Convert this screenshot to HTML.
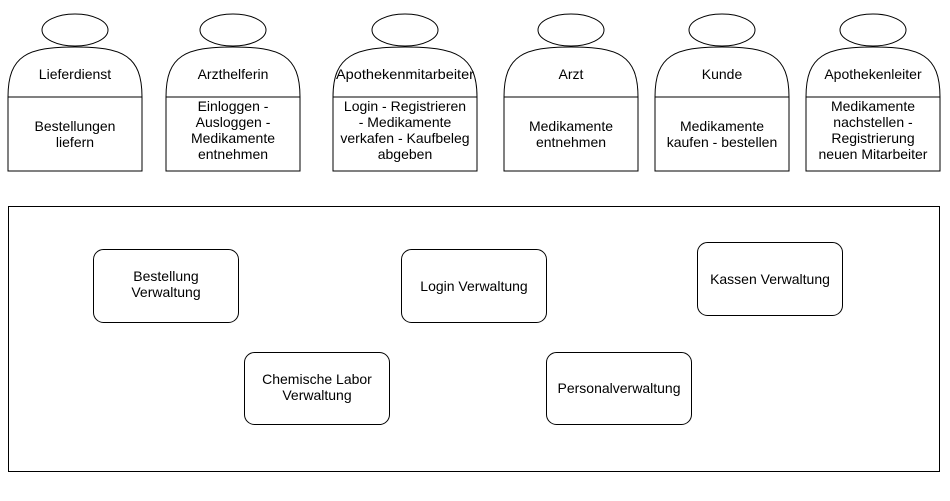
<!DOCTYPE html>
<html><head><meta charset="utf-8"><style>
html,body{margin:0;padding:0;background:#fff;}
svg text{font-family:"Liberation Sans",Arial,sans-serif;font-size:14px;fill:#000;text-anchor:middle;}
</style></head><body>
<svg width="950" height="496" viewBox="0 0 950 496" xmlns="http://www.w3.org/2000/svg">
<g fill="#fff" stroke="#000" stroke-width="1">
<g transform="translate(8,0)">
<ellipse cx="67" cy="30" rx="33" ry="16"/>
<path d="M0,171 L0,97 C0,55 20,47 67,47 C114,47 134,55 134,97 L134,171 Z"/>
<line x1="0" y1="97" x2="134" y2="97"/>
</g>
<g transform="translate(166,0)">
<ellipse cx="67" cy="30" rx="33" ry="16"/>
<path d="M0,171 L0,97 C0,55 20,47 67,47 C114,47 134,55 134,97 L134,171 Z"/>
<line x1="0" y1="97" x2="134" y2="97"/>
</g>
<g transform="translate(333,0)">
<ellipse cx="72" cy="30" rx="33" ry="16"/>
<path d="M0,171 L0,97 C0,55 22,47 72,47 C122,47 144,55 144,97 L144,171 Z"/>
<line x1="0" y1="97" x2="144" y2="97"/>
</g>
<g transform="translate(504,0)">
<ellipse cx="67" cy="30" rx="33" ry="16"/>
<path d="M0,171 L0,97 C0,55 20,47 67,47 C114,47 134,55 134,97 L134,171 Z"/>
<line x1="0" y1="97" x2="134" y2="97"/>
</g>
<g transform="translate(655,0)">
<ellipse cx="67" cy="30" rx="33" ry="16"/>
<path d="M0,171 L0,97 C0,55 20,47 67,47 C114,47 134,55 134,97 L134,171 Z"/>
<line x1="0" y1="97" x2="134" y2="97"/>
</g>
<g transform="translate(806,0)">
<ellipse cx="67" cy="30" rx="33" ry="16"/>
<path d="M0,171 L0,97 C0,55 20,47 67,47 C114,47 134,55 134,97 L134,171 Z"/>
<line x1="0" y1="97" x2="134" y2="97"/>
</g>
<rect x="8.5" y="206.5" width="931" height="265"/>
<rect x="93.5" y="249.5" width="145" height="73" rx="10"/>
<rect x="244.5" y="352.5" width="145" height="72" rx="10"/>
<rect x="401.5" y="249.5" width="145" height="73" rx="10"/>
<rect x="546.5" y="352.5" width="145" height="72" rx="10"/>
<rect x="697.5" y="242.5" width="145" height="73" rx="10"/>
</g>
<text x="75" y="79">Lieferdienst</text>
<text x="75" y="131">Bestellungen</text>
<text x="75" y="147">liefern</text>
<text x="233" y="79">Arzthelferin</text>
<text x="233" y="111">Einloggen -</text>
<text x="233" y="127">Ausloggen -</text>
<text x="233" y="143">Medikamente</text>
<text x="233" y="159">entnehmen</text>
<text x="405" y="79" textLength="138" lengthAdjust="spacingAndGlyphs">Apothekenmitarbeiter</text>
<text x="405" y="111">Login - Registrieren</text>
<text x="405" y="127">- Medikamente</text>
<text x="405" y="143">verkafen - Kaufbeleg</text>
<text x="405" y="159">abgeben</text>
<text x="571" y="79">Arzt</text>
<text x="571" y="131">Medikamente</text>
<text x="571" y="147">entnehmen</text>
<text x="722" y="79">Kunde</text>
<text x="722" y="131">Medikamente</text>
<text x="722" y="147">kaufen - bestellen</text>
<text x="873" y="79">Apothekenleiter</text>
<text x="873" y="111">Medikamente</text>
<text x="873" y="127">nachstellen -</text>
<text x="873" y="143">Registrierung</text>
<text x="873" y="159">neuen Mitarbeiter</text>
<text x="166" y="281">Bestellung</text>
<text x="166" y="297">Verwaltung</text>
<text x="317" y="384">Chemische Labor</text>
<text x="317" y="400">Verwaltung</text>
<text x="474" y="291">Login Verwaltung</text>
<text x="619" y="393">Personalverwaltung</text>
<text x="770" y="284">Kassen Verwaltung</text>
</svg>
</body></html>
